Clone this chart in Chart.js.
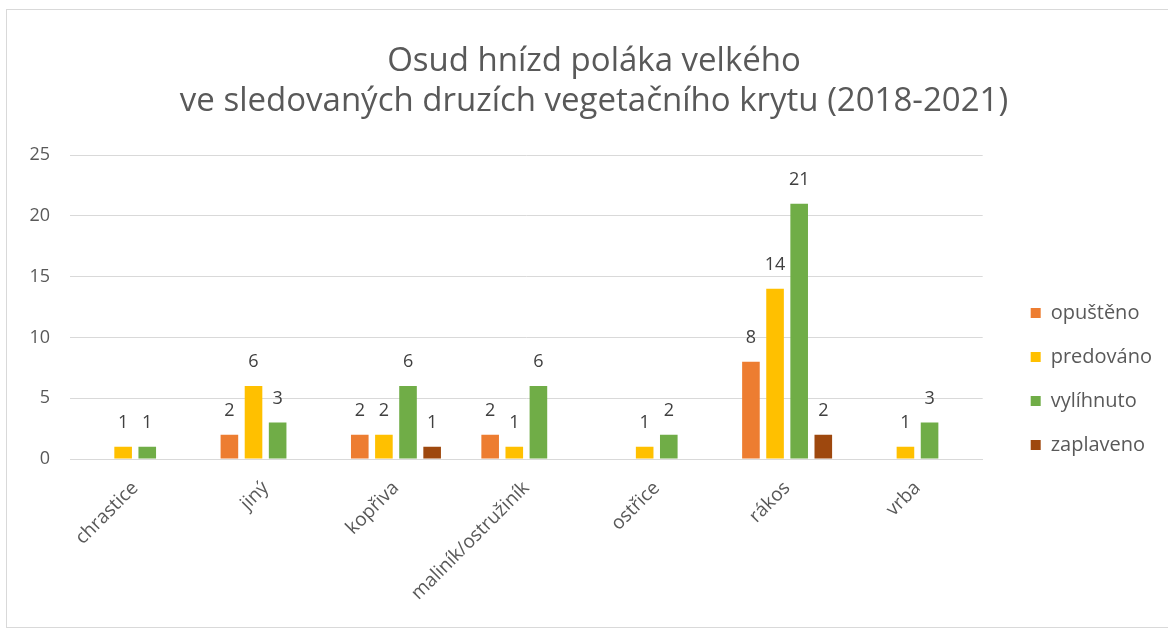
<!DOCTYPE html>
<html lang="cs">
<head>
<meta charset="utf-8">
<script src="https://cdn.jsdelivr.net/npm/chart.js@4/dist/chart.umd.min.js"></script>
<style>
  body { margin: 0; background: #fff; }
  #wrap { position: relative; width: 1168px; height: 630px; }
  #frame { position: absolute; left: 6px; top: 9px; width: 1170px; height: 617px; border: 1px solid #d9d9d9; pointer-events: none; }
</style>
</head>
<body>
<div id="wrap">
  <canvas id="chart"></canvas>
  <div id="frame"></div>
</div>
<script>
// kategorie vegetačního krytu
const categories = ["chrastice", "jiný", "kopřiva", "maliník/ostružiník", "ostřice", "rákos", "vrba"];

// počty hnízd podle osudu (null = bez hodnoty)
const opusteno  = [null, 2, 2, 2, null, 8, null];
const predovano = [1, 6, 2, 1, 1, 14, 1];
const vylihnuto = [1, 3, 6, 6, 2, 21, 3];
const zaplaveno = [null, null, 1, null, null, 2, null];

const yTicks = [0, 5, 10, 15, 20, 25];

const FONT = "'Open Sans', 'Noto Sans', sans-serif";
const TEXT = "#595959";

// popisky hodnot nad sloupci
const valueLabels = {
  id: "valueLabels",
  afterDatasetsDraw(chart) {
    const ctx = chart.ctx;
    ctx.save();
    ctx.font = "18px " + FONT;
    ctx.fillStyle = "#404040";
    ctx.textAlign = "center";
    ctx.textBaseline = "middle";
    chart.data.datasets.forEach((ds, i) => {
      chart.getDatasetMeta(i).data.forEach((bar, j) => {
        const v = ds.data[j];
        if (v == null) return;
        ctx.fillText(String(v), bar.x, bar.y - 24);
      });
    });
    ctx.restore();
  }
};

new Chart(document.getElementById("chart"), {
  type: "bar",
  data: {
    labels: categories,
    datasets: [
      { label: "opuštěno", data: opusteno, backgroundColor: "#ED7D31" },
      { label: "predováno", data: predovano, backgroundColor: "#FFC000" },
      { label: "vylíhnuto", data: vylihnuto, backgroundColor: "#70AD47" },
      { label: "zaplaveno", data: zaplaveno, backgroundColor: "#9E480E" },
    ]
  },
  options: {
    responsive: true,
    maintainAspectRatio: false,
    animation: false,
    datasets: { bar: { categoryPercentage: 0.74, barPercentage: 0.73 } },
    layout: { padding: { left: 26, right: 6, top: 0, bottom: 0 } },
    plugins: {
      title: {
        display: true,
        text: ["Osud hnízd poláka velkého", "ve sledovaných druzích vegetačního krytu (2018-2021)"],
        color: TEXT,
        font: { family: FONT, size: 33, weight: "normal", lineHeight: 1.2 },
        padding: { top: 42, bottom: 34 }
      },
      legend: {
        position: "right",
        title: { display: true, text: " ", font: { size: 12, lineHeight: 1 }, padding: { top: 116, bottom: 0 } },
        labels: {
          color: TEXT,
          font: { family: FONT, size: 20 },
          boxWidth: 10,
          boxHeight: 10,
          padding: 24
        }
      },
      tooltip: { enabled: false }
    },
    scales: {
      x: {
        grid: { display: false },
        border: { color: "#d9d9d9" },
        ticks: {
          color: TEXT,
          font: { family: FONT, size: 19 },
          minRotation: 45,
          maxRotation: 45,
          autoSkip: false,
          padding: 10
        },
        afterFit: s => { s.height = 171; }
      },
      y: {
        min: 0,
        max: 25,
        afterBuildTicks: s => { s.ticks = yTicks.map(v => ({ value: v })); },
        grid: { color: "#d9d9d9", drawTicks: false },
        border: { display: false },
        ticks: { color: TEXT, font: { family: FONT, size: 18 }, padding: 20 },
        afterFit: s => { s.width = 44; }
      },
      spacer: {
        position: "right",
        display: true,
        grid: { display: false },
        border: { display: false },
        ticks: { display: false },
        afterFit: s => { s.width = 24; }
      }
    }
  },
  plugins: [valueLabels]
});
</script>
</body>
</html>
